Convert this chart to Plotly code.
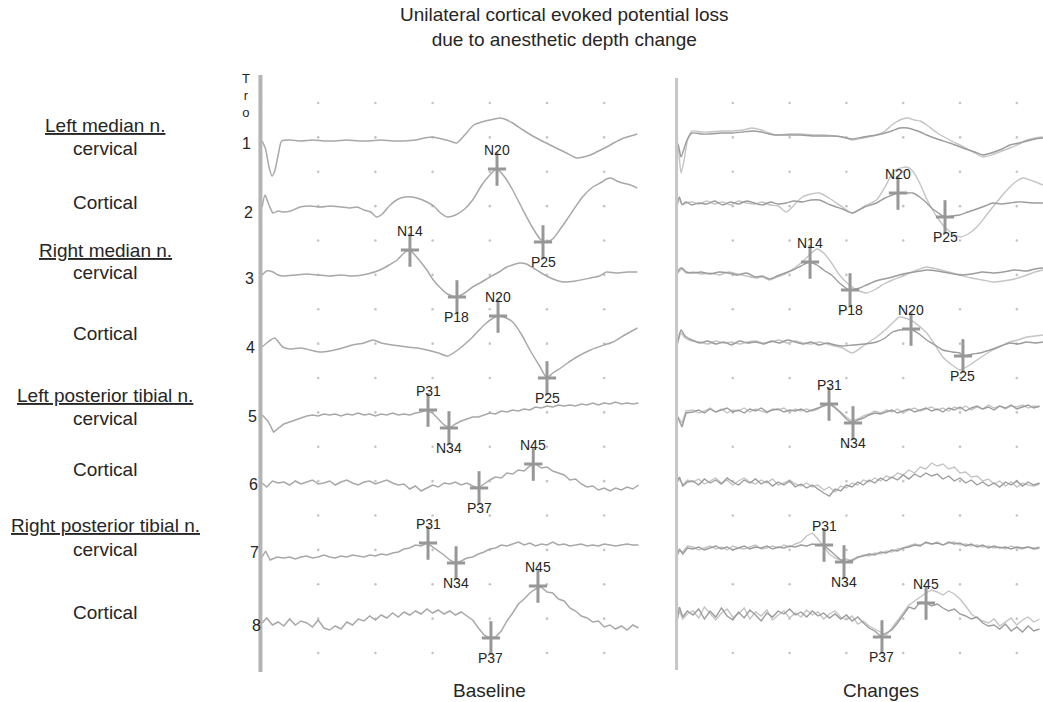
import plotly.graph_objects as go

W, H = 1043, 702

# ---------------- text ----------------
TITLE_LINES = ["Unilateral cortical evoked potential loss", "due to anesthetic depth change"]
PANEL_TITLES = ["Baseline", "Changes"]
SITE_LABELS = ["Left median n.", "cervical", "Cortical",
               "Right median n.", "cervical", "Cortical",
               "Left posterior tibial n.", "cervical", "Cortical",
               "Right posterior tibial n.", "cervical", "Cortical"]
SITE_UNDERLINED = [True, False, False, True, False, False, True, False, False, True, False, False]
CHANNEL_NAMES = ["1", "2", "3", "4", "5", "6", "7", "8"]
DOT_TIMES_MS = [5, 10, 15, 20, 25, 30]

# ---------------- data: baseline (time ms, amplitude a.u.) ----------------
B1_T = [0.1, 0.4, 0.7, 0.96, 1.2, 1.5, 1.8, 2.5, 3.5, 4.5, 5.5, 6.5, 7.5, 8.5, 9.5, 10.5, 11.5, 12.5,
        13.5, 14.3, 15.0, 15.8, 16.5, 17.1, 17.8, 18.6, 19.3, 20.0, 20.9, 21.5, 22.0, 22.9, 23.6, 24.4,
        25.1, 25.8, 26.7, 27.6, 28.2, 28.8, 29.5, 30.2, 31.0, 31.7, 32.3, 32.9]
B1_A = [0, -8, -26, -35, -30, -14, 0, 1, 0, 1, 0, 0, 1, 0, 0, 1, 0, 0,
        1, 3, 4, 2, 0, -2, 6, 16, 19, 21, 23, 21, 18, 11, 6, 1,
        -3, -7, -12, -17, -16, -14, -10, -6, -1, 3, 5, 7]

B2_T = [0.1, 0.35, 0.7, 1.05, 1.5, 1.9, 2.6, 3.4, 4.3, 5.2, 6.1, 7.0, 7.8, 8.4, 9.0, 9.6, 10.1, 10.6,
        11.3, 12.0, 12.6, 13.2, 13.9, 14.5, 15.1, 15.7, 16.3, 17.0, 17.8, 18.5, 19.3, 20.0, 20.6, 21.3,
        22.0, 22.9, 23.7, 24.4, 24.9, 25.5, 26.1, 26.6, 27.3, 28.1, 29.0, 29.8, 30.2, 30.6, 31.1, 31.6,
        32.3, 32.9]
B2_A = [0, 12, 2, -6, -4, -5, -4, 0, 1, 0, 1, 0, -1, 0, -3, -5, -10, -7,
        2, 8, 10, 10, 8, 5, 1, -6, -10, -8, -2, 7, 22, 32, 38, 30,
        17, -3, -20, -32, -35, -32, -23, -15, -3, 10, 20, 25, 28, 29, 26, 24,
        22, 19]

B3_T = [0.1, 0.5, 1.05, 1.5, 2.0, 3.0, 4.0, 5.0, 6.0, 7.0, 8.0, 9.3, 10.4, 11.2, 11.9, 12.5, 13.0, 13.6,
        14.5, 15.0, 15.6, 16.3, 17.1, 17.8, 18.5, 19.3, 20.0, 20.8, 21.5, 22.6, 23.2, 23.8, 24.5, 25.3,
        26.4, 27.5, 28.8, 29.6, 30.2, 31.0, 32.0, 32.9]
B3_A = [0, 4, 3, 0, -1, 0, 1, 0, -1, 0, -1, 1, 5, 10, 15, 22, 25, 18,
        5, -4, -12, -19, -22, -18, -12, -7, -2, 3, 8, 12, 11, 7, 2, -3,
        -7, -6, -3, -1, 3, 2, 3, 3]

B4_T = [0.1, 0.6, 1.2, 1.9, 2.5, 3.5, 4.3, 5.2, 6.0, 6.8, 8.0, 9.0, 9.8, 10.5, 11.5, 12.8, 13.7, 14.5,
        15.5, 16.3, 17.2, 18.5, 19.5, 20.3, 20.7, 21.2, 22.0, 22.8, 23.5, 24.3, 25.0, 25.5, 26.2, 26.8,
        27.6, 28.8, 30.0, 30.8, 31.8, 32.9]
B4_A = [0, 5, 9, 0, -2, -1, -3, -5, -4, -2, 2, 4, 7, 4, 2, 0, -1, -3,
        -6, -9, -3, 10, 22, 29, 31, 30, 25, 12, -3, -18, -31, -26, -21, -16,
        -10, -3, 2, 5, 12, 19]

# noisy tibial channels: short artefact part + samples every 0.5 ms from 2.0 to 33.0 ms
T_GRID_BASE = [round(2.0 + 0.5 * i, 1) for i in range(63)]

B5_PRE_T = [0.1, 0.6, 1.1, 1.5]
B5_PRE_A = [0, -6, -17, -13]
B5_A = [-9, -7, -5, -3, -1, 0, -1, 1, 0, 1, -1, 1, 0, 2, 0, 1, -1, 1, 0, 2,
        0, 1, 0, 2, 3, 5, 2, -4, -10, -13, -9, -6, -4, -2, -2, 0, 2, 1, 4, 3,
        5, 4, 6, 5, 8, 7, 9, 8, 10, 9, 10, 9, 11, 10, 12, 10, 12, 11, 13, 11,
        12, 11, 12]

B6_PRE_T = [0.1, 0.5, 1.0, 1.5]
B6_PRE_A = [0, -4, 2, 0]
B6_A = [1, -2, 2, -1, 1, 3, -1, 0, 2, -2, 1, 3, 0, -2, 1, 2, -1, 1, 3, 0,
        -2, -1, -6, -3, -8, -5, -2, -4, 0, -1, 1, -2, 0, -3, -5, -1, 3, 6, 5, 10,
        9, 13, 12, 17, 19, 15, 16, 12, 10, 8, 3, 4, -1, -4, -3, -7, -5, -8, -5, -7,
        -4, -6, -2]

B7_PRE_T = [0.1, 0.4, 0.8, 1.4]
B7_PRE_A = [0, 6, -3, 0]
B7_A = [-1, 0, -2, 0, 1, -1, 0, 2, 0, -1, 1, 0, 2, 1, 0, 2, 1, 3, 2, 4,
        5, 8, 9, 12, 11, 14, 10, 6, 2, -3, -6, -4, -1, 0, 3, 5, 8, 9, 12, 11,
        13, 15, 12, 14, 11, 13, 12, 15, 12, 13, 11, 12, 13, 11, 12, 11, 13, 12, 11, 12,
        13, 12, 12]

B8_PRE_T = [0.1, 0.5, 1.0, 1.5]
B8_PRE_A = [0, 5, -2, 1]
B8_A = [-3, 4, -2, 2, 0, -4, 3, -5, -7, -3, -6, 1, -2, 4, 2, 7, 3, 8, 5, 10,
        6, 11, 8, 12, 9, 14, 10, 13, 9, 12, 8, 11, 7, 3, -5, -12, -15, -14, -8, 2,
        10, 19, 24, 30, 34, 36, 31, 30, 24, 22, 15, 12, 7, 5, 1, 2, -4, -2, -6, -3,
        -7, -2, -5]

# ---------------- data: changes (two superimposed sweeps, A darker, B lighter) ----------------
C1_T = [0.05, 0.25, 0.44, 0.7, 1.0, 1.41, 2.2, 3.0, 4.0, 5.0, 5.9, 6.7, 7.5, 8.2, 8.8, 9.9, 11.0, 12.0,
        13.0, 13.9, 14.65, 15.5, 16.5, 17.65, 18.4, 19.0, 19.7, 20.4, 21.0, 21.5, 22.07, 23.0, 24.1, 24.8,
        25.5, 26.3, 27.0, 28.0, 28.7, 29.4, 30.2, 30.9, 31.6, 32.3]
C1_A = [0, -6, -16, -8, 2, 8, 7, 7, 8, 8, 9, 10, 9, 7, 6, 6, 6, 5,
        5, 5, 4, 2, 4, 6, 8, 10, 13, 13, 11, 9, 6, 2, -2, -5,
        -8, -11, -14, -11, -8, -4, -2, 0, 2, 3]
C1_B = [0, -12, -32, -20, 0, 10, 9, 9, 10, 10, 11, 13, 11, 8, 6, 7, 7, 6,
        6, 5, 4, 1, 3, 6, 10, 16, 21, 23, 21, 20, 16, 8, 1, -3,
        -7, -12, -16, -13, -10, -7, -3, 1, 3, 4]

C2_T = [0.05, 0.3, 0.53, 0.9, 1.4, 2.0, 2.7, 3.4, 4.1, 4.8, 5.5, 6.2, 6.9, 7.6, 8.3, 9.0, 9.71, 10.4,
        11.12, 11.9, 12.62, 13.6, 14.65, 15.53, 16.6, 17.65, 18.4, 19.06, 19.51, 20.3, 20.83, 21.45,
        22.07, 22.59, 23.1, 23.65, 24.3, 24.98, 25.7, 26.48, 27.2, 27.89, 28.6, 29.39, 30.0, 30.54,
        31.4, 32.3]
C2_A = [0, 10, 3, 5, 2, 4, 3, 6, 2, 5, 3, 6, 4, 2, 5, 3, 4, 6,
        5, 7, 7, 2, -2, -6, 0, 4, 9, 12, 14, 14, 14, 10,
        4, -2, -6, -10, -9, -8, -5, -2, 1, 4, 3, 4, 5, 5,
        4, 4]
C2_B = [0, 8, 2, 4, 5, 3, 6, 3, 5, 2, 6, 4, 3, 5, 2, 1, -5, 2,
        10, 13, 14, 8, 0, -6, 1, 7, 20, 34, 38, 40, 36, 24,
        8, -3, -12, -20, -26, -30, -27, -20, -10, 0, 10, 20, 26, 29,
        26, 22]

C3_T = [0.05, 0.3, 0.53, 0.9, 1.5, 2.2, 3.0, 3.8, 4.6, 5.4, 6.2, 7.0, 7.6, 8.21, 8.9, 9.6, 10.3, 11.0,
        11.74, 12.4, 13.0, 13.7, 14.39, 15.27, 16.15, 16.77, 17.6, 18.3, 19.06, 20.0, 21.0, 22.07,
        23.0, 24.0, 24.98, 26.0, 27.0, 27.89, 28.8, 29.8, 30.89, 31.6, 32.3]
C3_A = [0, 6, 7, 3, 2, 3, 1, 3, 2, 0, 2, -2, -1, -4, -1, 2, 5, 9,
        13, 10, 5, 0, -8, -15, -13, -10, -6, -4, -2, 1, 3, 5,
        4, 2, 0, 1, 3, 2, 3, 5, 4, 6, 7]
C3_B = [0, 4, 6, 2, 3, 1, 2, 0, 3, 1, -1, -3, -2, -5, -2, 1, 6, 12,
        20, 26, 22, 12, 0, -10, -16, -18, -14, -9, -5, -1, 4, 8,
        6, 3, 0, -3, -5, -7, -6, -4, 0, 3, 5]

C4_T = [0.05, 0.25, 0.44, 0.8, 1.41, 2.1, 2.8, 3.5, 4.2, 4.9, 5.6, 6.3, 7.0, 7.7, 8.4, 9.1, 9.8, 10.5,
        11.2, 11.9, 12.6, 13.3, 14.0, 14.65, 15.53, 16.6, 17.65, 18.4, 19.06, 19.68, 20.65, 21.4,
        22.07, 22.8, 23.48, 24.3, 24.98, 25.24, 26.13, 26.74, 27.89, 28.6, 29.39, 30.1, 30.89, 31.6, 32.3]
C4_A = [0, 10, 17, 11, 7, 4, 6, 3, 5, 2, 6, 4, 5, 3, 6, 4, 7, 5,
        3, 5, 2, 4, 2, 1, 2, 3, 5, 9, 15, 17, 18, 13,
        7, 2, -3, -5, -6, -9, -7, -6, -2, 1, 4, 3, 5, 4, 5]
C4_B = [0, 8, 14, 9, 6, 5, 3, 6, 4, 5, 3, 5, 6, 4, 5, 7, 4, 6,
        4, 3, 5, 3, 1, -1, -6, 2, 10, 17, 24, 30, 27, 21,
        14, 2, -10, -18, -23, -22, -16, -11, -3, 1, 5, 7, 10, 11, 12]

# noisy tibial channels: artefact part + samples every 0.5 ms from 1.5 to 32.0 ms
T_GRID_CHG = [round(1.5 + 0.5 * i, 1) for i in range(62)]

C5_PRE_T = [0.05, 0.3, 0.53, 0.88]
C5_PRE_A = [0, -6, -12, 2]
C5_PRE_B = [0, -4, -8, 4]
C5_A = [3, 5, 2, 6, 3, 5, 7, 3, 5, 2, 6, 4, 7, 3, 5, 6, 3, 5, 4, 6,
        3, 5, 7, 9, 11, 7, 2, -4, -8, -5, -3, 0, 2, 1, 3, 5, 2, 4, 6, 3,
        5, 7, 4, 6, 3, 7, 5, 8, 4, 7, 9, 6, 8, 5, 9, 7, 10, 6, 8, 10,
        7, 9]
C5_B = [5, 2, 4, 7, 3, 6, 2, 5, 4, 7, 3, 6, 4, 2, 6, 5, 7, 3, 6, 4,
        6, 4, 6, 10, 12, 8, 3, -2, -6, -4, -1, 1, 4, 2, 5, 3, 6, 2, 5, 7,
        4, 6, 8, 5, 7, 4, 8, 6, 9, 5, 8, 6, 10, 7, 9, 6, 9, 8, 10, 7,
        9, 8]

C6_PRE_T = [0.05, 0.3, 0.6, 1.0]
C6_PRE_A = [0, 6, -3, 1]
C6_PRE_B = [0, 4, -2, 3]
C6_A = [2, -2, 4, 0, 3, -1, 5, 1, -2, 3, 0, 4, -1, 2, -3, 1, -2, 2, -4, -1,
        -5, -2, -6, -10, -13, -6, -8, -2, -4, 1, -2, 3, 0, 5, 2, 6, 3, 8, 4, 9,
        6, 10, 7, 9, 4, 7, 2, 5, 0, 3, -2, 1, -3, 0, -4, 1, -2, 2, -3, 1,
        -2, 0]
C6_B = [1, 4, -1, 2, 5, 0, 3, -2, 2, 5, 1, -1, 3, 0, 4, -2, 0, 3, -1, -3,
        0, -4, -2, -7, -4, -9, -3, -5, 0, -2, 3, 1, 5, 2, 7, 5, 10, 8, 13, 10,
        16, 14, 20, 17, 19, 14, 16, 10, 11, 6, 7, 2, 4, -1, 2, -3, 1, -4, 0, -2,
        -3, -1]

C7_PRE_T = [0.05, 0.3, 0.6, 1.0]
C7_PRE_A = [0, 8, 3, 9]
C7_PRE_B = [0, 6, 5, 11]
C7_A = [8, 10, 7, 9, 11, 8, 10, 7, 9, 11, 8, 10, 9, 11, 8, 10, 9, 11, 10, 12,
        11, 13, 12, 12, 7, 2, -3, -5, -3, 0, 1, 3, 2, 5, 4, 7, 6, 9, 10, 12,
        11, 15, 13, 14, 12, 15, 13, 14, 11, 13, 10, 12, 9, 11, 9, 10, 8, 10, 9, 10,
        8, 9]
C7_B = [10, 7, 9, 11, 8, 10, 7, 11, 9, 8, 10, 12, 8, 9, 11, 9, 12, 10, 13, 15,
        21, 24, 18, 10, 3, -1, -3, -2, -4, -1, 2, 1, 4, 3, 6, 5, 8, 9, 11, 13,
        12, 14, 13, 15, 12, 14, 15, 12, 13, 11, 12, 10, 11, 9, 10, 8, 11, 9, 8, 10,
        9, 10]

C8_PRE_T = [0.05, 0.3, 0.6, 1.0]
C8_PRE_A = [0, 16, 6, 12]
C8_PRE_B = [0, 12, 4, 9]
C8_A = [8, 14, 4, 12, 6, 15, 7, 3, 11, 5, 13, 8, 2, 10, 6, 12, 9, 14, 8, 11,
        6, 12, 7, 10, 5, 9, 4, 8, 2, 6, 0, -5, -8, -13, -10, -7, 0, 8, 16, 14,
        21, 20, 17, 19, 15, 12, 14, 9, 7, 4, 6, 0, -3, -2, -6, -1, -8, -4, -9, -3,
        -8, -6]
C8_B = [12, 5, 16, 9, 3, 10, 14, 6, 9, 15, 4, 11, 7, 13, 3, 8, 12, 5, 10, 6,
        13, 8, 11, 4, 9, 12, 6, 3, 7, -1, 2, -3, -6, -9, -12, -5, 2, 10, 18, 22,
        26, 30, 33, 31, 28, 32, 29, 24, 17, 9, 5, 2, 0, 4, -3, 1, 5, -2, 3, 6,
        1, 4]

# ---------------- data: peak markers ----------------
MB_CH = [2, 2, 3, 3, 4, 4, 5, 5, 6, 6, 7, 7, 8, 8]
MB_NAME = ["N20", "P25", "N14", "P18", "N20", "P25", "P31", "N34", "N45", "P37", "P31", "N34", "N45", "P37"]
MB_T = [20.63, 24.65, 13.02, 17.13, 20.72, 25.0, 14.6, 16.43, 23.8, 19.06, 14.6, 17.05, 24.21, 20.1]
MB_AMP = [38, -35, 25, -22, 31, -31, 5, -13, 19, -5, 14, -6, 37, -15]

MC_CH = [2, 2, 3, 3, 4, 4, 5, 5, 7, 7, 8, 8]
MC_NAME = ["N20", "P25", "N14", "P18", "N20", "P25", "P31", "N34", "P31", "N34", "N45", "P37"]
MC_T = [19.54, 23.68, 11.8, 15.32, 20.69, 25.26, 13.47, 15.58, 13.03, 14.79, 22.01, 18.13]
MC_AMP = [14, -10, 13, -15, 18, -9, 11, -8, 12, -5, 20, -14]
LABEL_ABOVE = {"N20": True, "N14": True, "N45": True, "P31": True,
               "P25": False, "P18": False, "N34": False, "P37": False}

# ---------------- layout constants ----------------
CH_BASE_PX = [141, 207, 275, 347, 415, 483, 557, 623]
CH_OFF = [H - p for p in CH_BASE_PX]
FONT = "Liberation Sans, Arial, Helvetica, sans-serif"
TXT = "#262626"
BASE_COLOR = "#a8a8a8"
DARK_COLOR = "#9c9c9c"
LIGHT_COLOR = "#c4c4c4"
MARK_COLOR = "#979797"

# pixel mapping of the two sweeps
P1_T0, P1_S = 261.0, 11.44
P2_T0, P2_S = 676.0, 11.36
P1_DOM = (245.0, 655.0)
P2_DOM = (662.0, 1043.0)

baseline = [(B1_T, B1_A), (B2_T, B2_A), (B3_T, B3_A), (B4_T, B4_A),
            (B5_PRE_T + T_GRID_BASE, B5_PRE_A + B5_A),
            (B6_PRE_T + T_GRID_BASE, B6_PRE_A + B6_A),
            (B7_PRE_T + T_GRID_BASE, B7_PRE_A + B7_A),
            (B8_PRE_T + T_GRID_BASE, B8_PRE_A + B8_A)]
changes_a = [(C1_T, C1_A), (C2_T, C2_A), (C3_T, C3_A), (C4_T, C4_A),
             (C5_PRE_T + T_GRID_CHG, C5_PRE_A + C5_A),
             (C6_PRE_T + T_GRID_CHG, C6_PRE_A + C6_A),
             (C7_PRE_T + T_GRID_CHG, C7_PRE_A + C7_A),
             (C8_PRE_T + T_GRID_CHG, C8_PRE_A + C8_A)]
changes_b = [(C1_T, C1_B), (C2_T, C2_B), (C3_T, C3_B), (C4_T, C4_B),
             (C5_PRE_T + T_GRID_CHG, C5_PRE_B + C5_B),
             (C6_PRE_T + T_GRID_CHG, C6_PRE_B + C6_B),
             (C7_PRE_T + T_GRID_CHG, C7_PRE_B + C7_B),
             (C8_PRE_T + T_GRID_CHG, C8_PRE_B + C8_B)]

fig = go.Figure()

# dotted grid
dot_rows = [H - (103 + k * 34.375) for k in range(17)]
for xa in ["x", "x2"]:
    xs, ys = [], []
    for r in dot_rows:
        for t in DOT_TIMES_MS:
            xs.append(t)
            ys.append(r)
    fig.add_trace(go.Scatter(x=xs, y=ys, xaxis=xa, yaxis="y", mode="markers",
                             marker=dict(size=2.6, color="#c4c4c4"),
                             hoverinfo="skip", showlegend=False))


def add_wave(t, a, ch, xa, color, width, noisy):
    fig.add_trace(go.Scatter(
        x=t, y=[CH_OFF[ch] + v for v in a], xaxis=xa, yaxis="y", mode="lines",
        line=dict(color=color, width=width, shape="linear" if noisy else "spline",
                  smoothing=0.6),
        hoverinfo="skip", showlegend=False))


for i, (t, a) in enumerate(baseline):
    add_wave(t, a, i, "x", BASE_COLOR, 1.5, i >= 4)
for i, (t, a) in enumerate(changes_b):
    add_wave(t, a, i, "x2", LIGHT_COLOR, 1.4, i >= 4)
for i, (t, a) in enumerate(changes_a):
    add_wave(t, a, i, "x2", DARK_COLOR, 1.4, i >= 4)

annotations = []


def add_marks(chs, names, ts, amps, xa):
    ys = [CH_OFF[c - 1] + a for c, a in zip(chs, amps)]
    fig.add_trace(go.Scatter(x=ts, y=ys, xaxis=xa, yaxis="y", mode="markers",
                             marker=dict(symbol="line-ns", size=24,
                                         line=dict(color=MARK_COLOR, width=3)),
                             hoverinfo="skip", showlegend=False))
    fig.add_trace(go.Scatter(x=ts, y=ys, xaxis=xa, yaxis="y", mode="markers",
                             marker=dict(symbol="line-ew", size=13,
                                         line=dict(color=MARK_COLOR, width=3)),
                             hoverinfo="skip", showlegend=False))
    for n, t, y in zip(names, ts, ys):
        above = LABEL_ABOVE[n]
        annotations.append(dict(x=t, y=y, xref=xa, yref="y", text=n, showarrow=False,
                                xanchor="center", yanchor="middle",
                                yshift=19 if above else -20,
                                font=dict(family=FONT, size=14, color=TXT)))


add_marks(MB_CH, MB_NAME, MB_T, MB_AMP, "x")
add_marks(MC_CH, MC_NAME, MC_T, MC_AMP, "x2")


def px(x):
    return x / W


def py(y):
    return 1 - y / H


def paper_text(x, y, text, size, **kw):
    annotations.append(dict(x=px(x), y=py(y), xref="paper", yref="paper", text=text,
                            showarrow=False, xanchor="center", yanchor="middle",
                            font=dict(family=FONT, size=size, color=TXT), **kw))


# title
paper_text(564, 27, "<br>".join(TITLE_LINES), 19, align="center")
# panel titles
for name, cx in zip(PANEL_TITLES, [489, 881]):
    paper_text(cx, 690, name, 19)
# site labels
SITE_Y = [125, 148, 202, 250, 273, 333, 395, 419, 469, 525, 549, 612]
for lab, u, yy in zip(SITE_LABELS, SITE_UNDERLINED, SITE_Y):
    paper_text(105, yy, f"<u>{lab}</u>" if u else lab, 19)
# channel numbers
NUM_X = [246, 248, 249, 250, 252, 253, 254, 256]
NUM_Y = [143, 212, 279, 347, 416, 484, 552, 625]
for n, xx, yy in zip(CHANNEL_NAMES, NUM_X, NUM_Y):
    paper_text(xx, yy, n, 16)
paper_text(246, 96, "T<br>r<br>o", 13)

shapes = [
    dict(type="line", xref="x", yref="y", x0=-0.05, x1=-0.05, y0=H - 75, y1=H - 672,
         line=dict(color="#b4b4b4", width=4)),
    dict(type="line", xref="x2", yref="y", x0=0.05, x1=0.05, y0=H - 78, y1=H - 670,
         line=dict(color="#c6c6c6", width=3)),
]

fig.update_layout(
    width=W, height=H, margin=dict(l=0, r=0, t=0, b=0),
    paper_bgcolor="white", plot_bgcolor="white",
    xaxis=dict(domain=[P1_DOM[0] / W, P1_DOM[1] / W],
               range=[(P1_DOM[0] - P1_T0) / P1_S, (P1_DOM[1] - P1_T0) / P1_S],
               visible=False, anchor="y"),
    xaxis2=dict(domain=[P2_DOM[0] / W, P2_DOM[1] / W],
                range=[(P2_DOM[0] - P2_T0) / P2_S, (P2_DOM[1] - P2_T0) / P2_S],
                visible=False, anchor="y"),
    yaxis=dict(domain=[0, 1], range=[0, H], visible=False),
    annotations=annotations, shapes=shapes, showlegend=False,
)

fig.write_html("out.html", config={"displayModeBar": False},
               post_script="document.body.style.margin='0';document.body.style.overflow='hidden';")
